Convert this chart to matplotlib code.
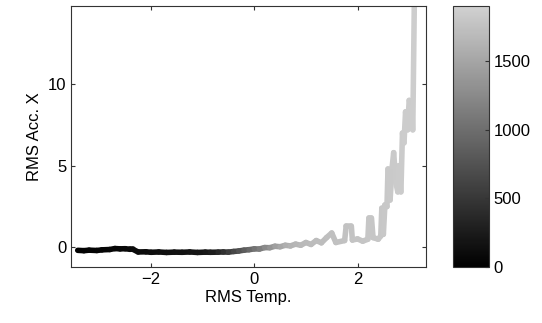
import numpy as np
import matplotlib
matplotlib.use('Agg')
import matplotlib.pyplot as plt
from matplotlib.collections import LineCollection
from matplotlib.colors import LinearSegmentedColormap, Normalize

plt.rcParams['font.family'] = ['Liberation Sans', 'DejaVu Sans']

# puntos: temperatura, aceleracion, indice (color)
rms_temp = [-3.42, -3.3, -3.2, -3.05, -2.95, -2.8, -2.7, -2.6, -2.5, -2.4, -2.35,
            -2.25, -2.1, -2.0, -1.85, -1.7, -1.55, -1.4, -1.25, -1.1, -0.95,
            -0.85, -0.7, -0.6, -0.5, -0.4, -0.3, -0.2, -0.1, 0.0, 0.1, 0.2,
            0.3, 0.4, 0.5, 0.6, 0.7, 0.8, 0.9, 1.0, 1.1, 1.2, 1.3, 1.4, 1.5,
            1.58, 1.75, 1.78, 1.88, 1.9, 2.0, 2.1, 2.2, 2.22, 2.27, 2.3, 2.4,
            2.45, 2.47, 2.5, 2.53, 2.57, 2.59, 2.63, 2.67, 2.7, 2.74, 2.78,
            2.8, 2.84, 2.87, 2.9, 2.93, 2.97, 3.0, 3.05, 3.07, 3.1]
rms_acc_x = [-0.18, -0.2, -0.17, -0.19, -0.15, -0.13, -0.07, -0.09, -0.08, -0.12, -0.12,
             -0.28, -0.27, -0.3, -0.28, -0.31, -0.29, -0.3, -0.28, -0.31, -0.29,
             -0.3, -0.29, -0.28, -0.29, -0.25, -0.22, -0.17, -0.14, -0.09, -0.1, -0.01,
             -0.02, 0.07, 0.04, 0.13, 0.09, 0.2, 0.13, 0.3, 0.18, 0.42, 0.28, 0.6, 0.88,
             0.3, 0.42, 1.3, 1.3, 0.45, 0.52, 0.38, 0.5, 1.8, 1.8, 0.6, 0.5,
             0.7, 2.4, 0.8, 2.6, 2.5, 4.8, 2.9, 4.9, 5.8, 4.0, 3.4,
             5.0, 3.4, 7.0, 6.4, 8.3, 7.2, 9.0, 8.6, 7.2, 15.0]
indice = [0, 15, 25, 35, 45, 55, 65, 75, 85, 92, 98,
          105, 115, 122, 132, 142, 152, 162, 175, 190, 210,
          230, 300, 400, 500, 600, 700, 800, 900, 1000, 1100, 1200,
          1300, 1400, 1480, 1560, 1610, 1640, 1660, 1680, 1695, 1705, 1715, 1725, 1735,
          1745, 1755, 1762, 1768, 1772, 1777, 1782, 1787, 1792, 1796, 1800, 1803,
          1806, 1808, 1810, 1813, 1816, 1820, 1823, 1826, 1830, 1833, 1836,
          1839, 1842, 1845, 1848, 1850, 1852, 1854, 1856, 1858, 1860]
cbar_ticks = [0, 500, 1000, 1500]

cmap = LinearSegmentedColormap.from_list('gris', [(0, 0, 0), (0.82, 0.82, 0.82)])
norm = Normalize(0, 1900)

pts = np.column_stack([rms_temp, rms_acc_x])
segs = np.stack([pts[:-1], pts[1:]], axis=1)
c = np.array(indice, dtype=float)

fig = plt.figure(figsize=(5.42, 3.23), dpi=100)
ax = fig.add_axes([0.131, 0.1734, 0.6544, 0.808])
cax = fig.add_axes([0.8352, 0.1734, 0.0664, 0.808])

lc = LineCollection(segs, cmap=cmap, norm=norm, linewidths=4, capstyle='round',
                    joinstyle='round')
lc.set_array((c[:-1] + c[1:]) / 2)
ax.add_collection(lc)

ax.set_xlim(-3.55, 3.32)
ax.set_ylim(-1.2, 14.78)
ax.set_xticks([-2, 0, 2])
ax.set_yticks([0, 5, 10])
ax.tick_params(direction='in', length=3, top=True, right=True, labelsize=12,
               width=0.8, color='#333333')
for s in ax.spines.values():
    s.set_color('#333333')
    s.set_linewidth(0.8)
ax.set_xlabel('RMS Temp.', fontsize=12, labelpad=2)
ax.set_ylabel('RMS Acc. X', fontsize=12, labelpad=4)

cb = fig.colorbar(plt.cm.ScalarMappable(norm=norm, cmap=cmap), cax=cax)
cb.set_ticks(cbar_ticks)
cb.ax.tick_params(direction='in', length=3, labelsize=12, width=0.8, color='#333333')
cb.outline.set_edgecolor('#333333')
cb.outline.set_linewidth(0.8)

fig.savefig('out.png', dpi=100)
